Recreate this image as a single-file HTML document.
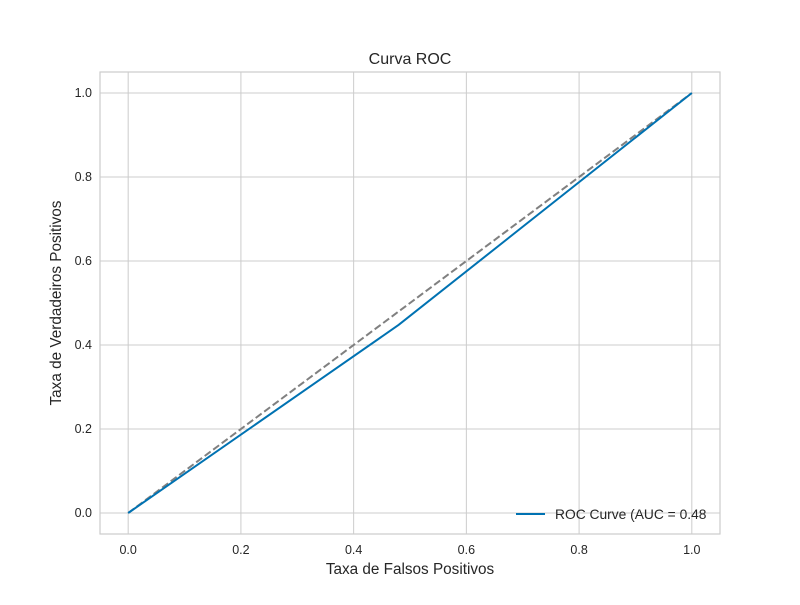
<!DOCTYPE html>
<html><head><meta charset="utf-8"><style>body{margin:0;background:#fff}svg text{font-family:"Liberation Sans","DejaVu Sans",sans-serif;fill:#262626}</style></head>
<body>
<svg id="c" width="800" height="600"></svg>
<script>
const fprValues=[0,0.48,1];
const tprValues=[0,0.448,1];
const xTicks=[0,0.2,0.4,0.6,0.8,1.0];
const yTicks=[0,0.2,0.4,0.6,0.8,1.0];
const L=100,R=720,T=72,B=534;
const xs=v=>L+(v+0.05)/1.1*(R-L);
const ys=v=>B-(v+0.05)/1.1*(B-T);
const svg=document.getElementById('c');
const NS='http://www.w3.org/2000/svg';
function mk(t,a,p){const e=document.createElementNS(NS,t);for(const k in a)e.setAttribute(k,a[k]);(p||svg).appendChild(e);return e;}
let bg=mk('rect',{x:L,y:T,width:R-L,height:B-T,fill:'#fff'});


xTicks.forEach(v=>{
 let g=mk('line',{x1:xs(v),x2:xs(v),y1:T,y2:B,stroke:'#cccccc','stroke-width':1});
 
 
 let t=mk('text',{x:xs(v),y:B+20,'text-anchor':'middle','font-size':12.5});t.textContent=v.toFixed(1);
 
 
});
yTicks.forEach(v=>{
 let g=mk('line',{x1:L,x2:R,y1:ys(v),y2:ys(v),stroke:'#cccccc','stroke-width':1});
 
 
 let t=mk('text',{x:L-8,y:ys(v)+4,'text-anchor':'end','font-size':12.5});t.textContent=v.toFixed(1);
 
 
});
let fr=mk('rect',{x:L,y:T,width:R-L,height:B-T,fill:'none',stroke:'#cccccc','stroke-width':1.2});


let d=mk('line',{x1:xs(0),y1:ys(0),x2:xs(1),y2:ys(1),stroke:'#808080','stroke-width':2,'stroke-dasharray':'7.4,3.2'});


let pl=mk('polyline',{points:fprValues.map((v,i)=>xs(v)+','+ys(tprValues[i])).join(' '),fill:'none',stroke:'#0072b2','stroke-width':2});


let ll=mk('line',{x1:516,x2:545,y1:514,y2:514,stroke:'#0072b2','stroke-width':2});


let lt=mk('text',{x:555,y:519,'font-size':13.8});lt.textContent='ROC Curve (AUC = 0.48';


let ti=mk('text',{x:410,y:64,'text-anchor':'middle','font-size':16});ti.textContent='Curva ROC';


let xt=mk('text',{x:410,y:574,'text-anchor':'middle','font-size':15.3});xt.textContent='Taxa de Falsos Positivos';


let yt=mk('text',{x:0,y:0,'text-anchor':'middle','font-size':15.3,transform:'translate(61,303) rotate(-90)'});yt.textContent='Taxa de Verdadeiros Positivos';


</script>
</body></html>
